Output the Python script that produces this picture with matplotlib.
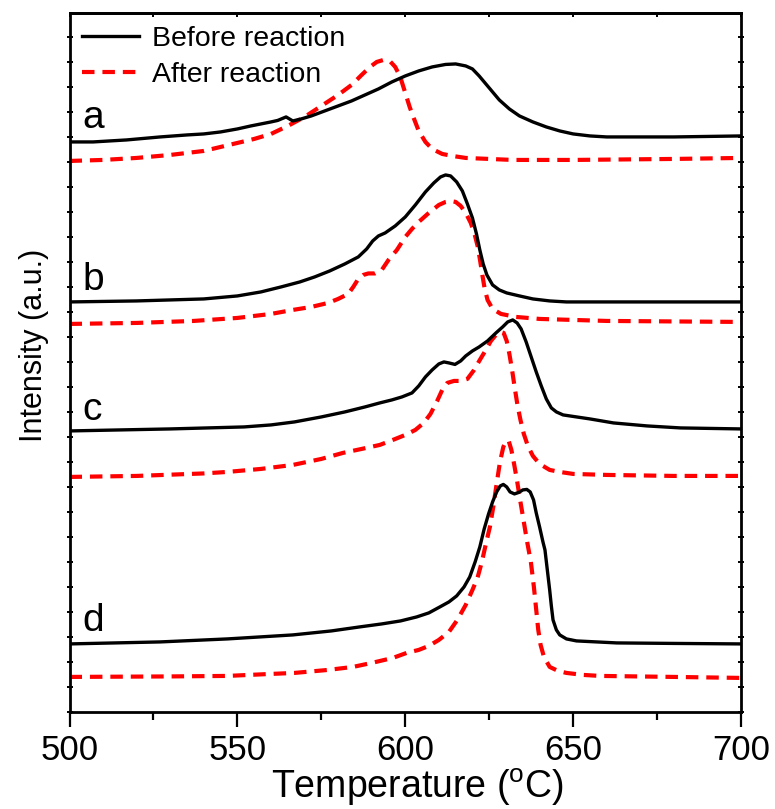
import matplotlib
matplotlib.use("Agg")
import matplotlib.pyplot as plt
from matplotlib.ticker import MultipleLocator

plt.rcParams['font.family'] = ['Liberation Sans', 'DejaVu Sans']
plt.rcParams['mathtext.fontset'] = 'custom'
plt.rcParams['mathtext.rm'] = 'Liberation Sans'

# ---- stacked traces, offset intensity (a.u.) vs temperature (deg C) ----
a_before_T = [500, 507, 517, 527, 535, 540, 545, 550, 554, 557, 560, 562, 564.5, 566.5, 569, 572, 576, 580, 584,
              588, 592, 596, 600, 604, 608, 612, 615, 618, 620, 622, 625, 628, 631, 634, 638, 642, 646,
              650, 655, 660, 670, 680, 690, 700]
a_before_I = [570, 570, 572, 575, 577, 578, 580, 583, 586, 588, 590, 591.5, 595, 591, 593, 596, 601, 606, 611,
              617, 623, 630, 636, 641, 645, 647.5, 648, 646, 643, 636, 624, 612, 603, 596, 590, 585, 581,
              578, 576, 575, 575, 575, 575.5, 576]

a_after_T = [500, 510, 520, 530, 540, 545, 550, 555, 560, 565, 570, 575, 580, 584, 587, 589.5, 591.5, 593.5,
             595.5, 597, 598.5, 600, 601.3, 602.5, 604, 606, 608, 611, 614, 618, 625, 632, 650, 680, 700]
a_after_I = [551, 552, 554, 557, 561, 565, 569, 573, 578, 586, 595, 606, 617, 627, 637, 645, 650, 652,
             650.5, 645, 635, 619, 605, 594, 581, 570, 563, 558, 556, 554, 553, 552, 552, 553, 554]

b_before_T = [500, 520, 540, 550, 557, 563, 568.6, 573, 577.5, 582, 586, 588.5, 590.3, 592, 594, 597, 600,
              603, 606, 608.5, 610.5, 612, 613.5, 615.3, 617, 618.5, 620, 621.2, 622.2, 623.2, 624.3, 626,
              628, 630.2, 634, 638, 643, 648, 670, 700]
b_before_I = [410, 411, 413, 416, 420, 425, 430, 435, 441, 448, 455, 463, 471, 476, 479, 486, 495,
              507, 520, 529, 535, 537, 536, 530, 521, 508, 494, 478, 462, 448, 437, 427,
              422, 419, 416, 413, 411, 410, 410, 410]

b_after_T = [500, 520, 537, 550, 560, 566.5, 572, 577, 580, 583, 584.5, 586, 587.5, 589, 591, 593, 595,
             597.5, 600, 602, 604, 607, 610, 612, 613.5, 615, 616.5, 618, 619.5, 620.7, 621.6, 622.3,
             622.9, 623.6, 624.5, 626, 628.5, 633, 640, 650, 660, 700]
b_after_I = [388, 389, 391, 394, 398, 402, 405, 409, 413, 418, 425, 433, 437, 438.5, 438.5, 442, 452,
             462, 475, 483, 490, 499, 507, 510, 511, 510, 506, 499, 489, 477, 465, 451,
             438, 424, 412, 403, 398, 395, 393, 392, 391, 390]

c_before_T = [500, 530, 552, 560, 567, 575, 582, 588, 592.4, 596, 599, 602, 604, 606, 608, 610, 611.5, 613,
              614.8, 616.5, 618, 620, 622, 624.5, 627, 629, 630.5, 632, 633.3, 634.5, 636, 637.5, 639,
              640.5, 642, 643.5, 645, 647, 651, 655, 662, 672, 682, 700]
c_before_I = [281, 283, 285, 287, 290, 295, 300, 305, 309, 312, 315, 319, 326, 335, 342, 348, 350, 349,
              347.5, 351, 356, 361, 365, 371, 379, 385, 390, 392, 389, 383, 370, 355, 340,
              326, 313, 304, 300, 297, 295, 293, 289, 286, 284, 283]

c_after_T = [500, 520, 540, 547, 557, 566.5, 575, 581.4, 587, 592.4, 596.3, 600, 603, 605.5, 607.5, 609.5,
             611, 612.5, 614.5, 616.5, 618.5, 620.5, 622.2, 624, 625.5, 627, 628.3, 629.3, 630.2, 631,
             631.8, 632.6, 633.4, 634.3, 635.3, 636.5, 638, 640, 643, 646, 650, 660, 680, 700]
c_after_I = [235, 236, 238.5, 240, 243, 247, 253, 259, 263, 267, 272, 277, 282, 289, 298, 311,
             322, 329, 331, 331, 333, 342, 352, 362, 371, 377, 380, 379, 371, 358,
             342, 324, 307, 292, 278, 266, 256, 248, 242, 240, 238, 237, 236, 236]

d_before_T = [500, 527, 547, 566.5, 578, 586.4, 593, 598.6, 603.4, 607, 610.3, 613, 615.3, 617.5, 619.2,
              620.8, 622.2, 623.5, 624.8, 626, 627.2, 628.3, 629.2, 630.2, 631.2, 632.5, 633.8, 635, 636.2,
              637.2, 638.2, 639, 640, 641, 641.6, 642.3, 643, 643.5, 644, 645, 646, 648, 651, 663, 680, 700]
d_before_I = [68, 70, 73, 77, 81, 85, 88, 91, 95, 99, 105, 110, 116, 125, 135,
              150, 165, 183, 198, 210, 220, 226, 227.5, 225, 220, 218, 219.5, 222, 222.5,
              220, 212, 199, 185, 170, 162, 142, 122, 106, 92, 82, 77, 73, 71, 69, 68.5, 68]

d_after_T = [500, 530, 547, 560, 567, 577, 584.4, 590, 596.3, 600.4, 604, 607, 610, 613, 615.5, 618, 620,
             621.5, 622.8, 624, 625.2, 626.2, 627.2, 628.2, 629.2, 630, 630.8, 631.6, 632.4, 633.2, 634.2,
             635.2, 636.3, 637.4, 638.3, 639, 639.6, 640.3, 641.3, 643, 645.5, 648, 653, 658, 680, 700]
d_after_I = [35, 35.5, 36, 38, 39, 42, 45, 49, 54, 59, 62, 66, 72, 80, 92, 107, 122,
             134, 150, 168, 185, 205, 228, 250, 265, 271, 271, 262, 248, 233, 212,
             192, 170, 150, 125, 102, 82, 67, 55, 45, 41, 39, 37, 36, 35, 34]

sample_labels = ['a', 'b', 'c', 'd']
label_y = [584, 422, 292, 81]
legend_labels = ['Before reaction', 'After reaction']

before_T = [a_before_T, b_before_T, c_before_T, d_before_T]
before_I = [a_before_I, b_before_I, c_before_I, d_before_I]
after_T = [a_after_T, b_after_T, c_after_T, d_after_T]
after_I = [a_after_I, b_after_I, c_after_I, d_after_I]

fig = plt.figure(figsize=(7.75, 8.09), dpi=100)
ax = fig.add_axes([0.0897, 0.12, 0.8665, 0.864])

dash_style = dict(color='#ff0000', lw=3.0, dashes=(3.0, 1.9), solid_capstyle='butt')
solid_style = dict(color='black', lw=2.4, solid_joinstyle='round')

for i in range(4):
    ax.plot(after_T[i], after_I[i], label=legend_labels[1] if i == 0 else None, zorder=2, **dash_style)
    ax.plot(before_T[i], before_I[i], label=legend_labels[0] if i == 0 else None, zorder=3, **solid_style)
    ax.text(503.8, label_y[i], sample_labels[i], fontsize=28, ha='left', va='baseline')

ax.set_xlim(500, 700)
ax.set_ylim(0, 699)

ax.xaxis.set_major_locator(MultipleLocator(50))
ax.xaxis.set_minor_locator(MultipleLocator(25))
ax.yaxis.set_major_locator(MultipleLocator(25))
ax.tick_params(axis='x', which='major', direction='out', length=11, width=1.6, labelsize=25, pad=5)
ax.tick_params(axis='x', which='minor', direction='out', length=6, width=1.6)
ax.tick_params(axis='y', which='major', left=True, right=True, direction='inout', length=4, width=1.4,
               labelleft=False)

top = ax.secondary_xaxis('top')
top.xaxis.set_major_locator(MultipleLocator(25))
top.tick_params(axis='x', direction='in', length=3, width=1.4, labeltop=False)
for s in top.spines.values():
    s.set_linewidth(2.0)

for s in ax.spines.values():
    s.set_linewidth(2.0)

ax.set_xlabel('Temperature ($^\\mathregular{o}$C)', fontsize=27)
ax.xaxis.set_label_coords(0.518, -0.078)
ax.set_ylabel('Intensity (a.u.)', fontsize=22)
ax.yaxis.set_label_coords(-0.030, 0.525)

handles, labels = ax.get_legend_handles_labels()
order = [labels.index(legend_labels[0]), labels.index(legend_labels[1])]
ax.legend([handles[k] for k in order], [labels[k] for k in order], loc='upper left',
          fontsize=20.5, frameon=False, handlelength=2.0, handletextpad=0.45,
          borderaxespad=0.15, borderpad=0.3, labelspacing=0.35)

fig.savefig('out.png', dpi=100)
